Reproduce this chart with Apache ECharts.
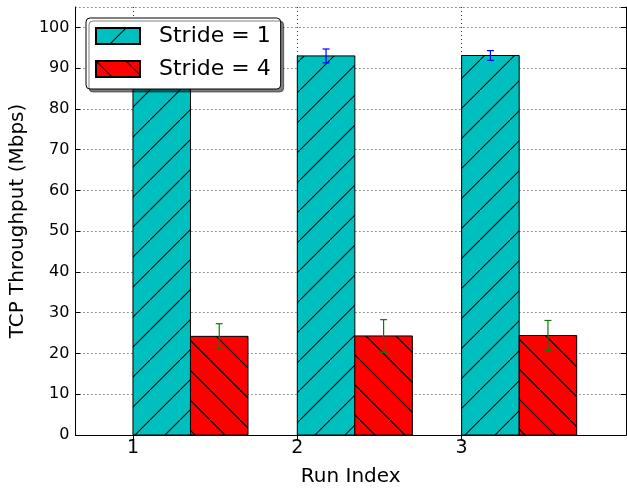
<!DOCTYPE html>
<html>
<head>
<meta charset="utf-8">
<script src="https://cdn.jsdelivr.net/npm/echarts@6/dist/echarts.min.js"></script>
<style>
  html, body { margin: 0; padding: 0; background: #fff; }
  #chart { width: 627px; height: 492px; }
</style>
</head>
<body>
<div id="chart"></div>
<script>
// data
const runs = [1, 2, 3]
const stride1 = [93.1, 93.0, 93.1]
const stride1Err = [1.5, 1.7, 1.2]
const stride4 = [24.2, 24.3, 24.4]
const stride4Err = [3.1, 4.0, 3.7]
const barWidth = 0.35

const font = 'DejaVu Sans'

// hatch pattern tile, like matplotlib '/' and '\'
function hatch(bg, dir) {
  const size = 30
  const cv = document.createElement('canvas')
  cv.width = size
  cv.height = size
  const ctx = cv.getContext('2d')
  ctx.fillStyle = bg
  ctx.fillRect(0, 0, size, size)
  ctx.strokeStyle = '#000'
  ctx.lineWidth = 1.1
  ctx.beginPath()
  if (dir === '/') {
    ctx.moveTo(-2, size + 2)
    ctx.lineTo(size + 2, -2)
  } else {
    ctx.moveTo(-2, -2)
    ctx.lineTo(size + 2, size + 2)
  }
  ctx.stroke()
  return { image: cv, repeat: 'repeat' }
}

const cyanFill = hatch('#00bfbf', '/')
const redFill = hatch('#ff0000', '\\')

function barItem(offset, fill) {
  return function (params, api) {
    const x = api.value(0) + offset
    const p0 = api.coord([x, 0])
    const p1 = api.coord([x + barWidth, api.value(1)])
    return {
      type: 'rect',
      shape: { x: p0[0], y: p1[1], width: p1[0] - p0[0], height: p0[1] - p1[1] },
      style: { fill: fill, stroke: '#000', lineWidth: 1 }
    }
  }
}

function errItem(offset, color) {
  return function (params, api) {
    const x = api.value(0) + offset + barWidth / 2
    const v = api.value(1)
    const e = api.value(2)
    const top = api.coord([x, v + e])
    const bot = api.coord([x, v - e])
    const cap = 3.5
    const st = { stroke: color, lineWidth: 1.2 }
    return {
      type: 'group',
      children: [
        { type: 'line', shape: { x1: top[0], y1: top[1], x2: bot[0], y2: bot[1] }, style: st },
        { type: 'line', shape: { x1: top[0] - cap, y1: top[1], x2: top[0] + cap, y2: top[1] }, style: st },
        { type: 'line', shape: { x1: bot[0] - cap, y1: bot[1], x2: bot[0] + cap, y2: bot[1] }, style: st }
      ]
    }
  }
}

const chart = echarts.init(document.getElementById('chart'), null, { renderer: 'canvas' })

const xBase = {
  type: 'value',
  min: 0.65,
  max: 4,
  axisLine: { show: true, lineStyle: { color: '#000', width: 1 } },
  axisTick: { show: true, inside: true, length: 5, customValues: runs, lineStyle: { color: '#000' } }
}
const yBase = {
  type: 'value',
  min: 0,
  max: 105,
  interval: 10,
  axisLine: { show: true, lineStyle: { color: '#000', width: 1 } },
  axisTick: { show: true, inside: true, length: 5, lineStyle: { color: '#000' } }
}

const option = {
  animation: false,
  textStyle: { fontFamily: font },
  grid: { left: 75, right: 1, top: 7, bottom: 56, containLabel: false },
  legend: {
    data: ['Stride = 1', 'Stride = 4'],
    left: 86,
    top: 18,
    orient: 'vertical',
    icon: 'rect',
    itemWidth: 44,
    itemHeight: 16,
    itemGap: 11,
    padding: [7, 10, 9, 9],
    backgroundColor: '#fff',
    borderColor: '#000',
    borderWidth: 1,
    borderRadius: 4,
    shadowColor: 'rgba(0,0,0,0.5)',
    shadowOffsetX: 3,
    shadowOffsetY: 3,
    shadowBlur: 0,
    textStyle: { fontFamily: font, fontSize: 22, color: '#000', lineHeight: 22, padding: [0, 0, 0, 14] }
  },
  xAxis: [
    Object.assign({}, xBase, {
      position: 'bottom',
      axisLabel: { customValues: runs, fontSize: 19, color: '#000', margin: 4, fontFamily: font },
      splitLine: { show: true, lineStyle: { color: '#333', type: [1, 3], width: 1 } },
      name: 'Run Index',
      nameLocation: 'middle',
      nameGap: 32,
      nameTextStyle: { fontSize: 20, color: '#000', fontFamily: font }
    }),
    Object.assign({}, xBase, {
      position: 'top',
      axisLabel: { show: false },
      splitLine: { show: false }
    })
  ],
  yAxis: [
    Object.assign({}, yBase, {
      position: 'left',
      axisLabel: { fontSize: 16, color: '#000', margin: 6, showMaxLabel: false, fontFamily: font },
      splitLine: { show: true, lineStyle: { color: '#333', type: [1, 3], width: 1 } },
      name: 'TCP Throughput (Mbps)',
      nameLocation: 'middle',
      nameGap: 45,
      nameTextStyle: { fontSize: 20, color: '#000', fontFamily: font }
    }),
    Object.assign({}, yBase, {
      position: 'right',
      axisLabel: { show: false },
      splitLine: { show: false }
    })
  ],
  series: [
    {
      name: 'Stride = 1',
      type: 'custom',
      renderItem: barItem(0, cyanFill),
      itemStyle: { color: cyanFill, borderColor: '#000', borderWidth: 1 },
      data: runs.map((r, i) => [r, stride1[i]]),
      z: 2
    },
    {
      name: 'Stride = 4',
      type: 'custom',
      renderItem: barItem(barWidth, redFill),
      itemStyle: { color: redFill, borderColor: '#000', borderWidth: 1 },
      data: runs.map((r, i) => [r, stride4[i]]),
      z: 2
    },
    {
      name: 'err1',
      type: 'custom',
      renderItem: errItem(0, '#0000ff'),
      data: runs.map((r, i) => [r, stride1[i], stride1Err[i]]),
      z: 3
    },
    {
      name: 'err4',
      type: 'custom',
      renderItem: errItem(barWidth, '#008000'),
      data: runs.map((r, i) => [r, stride4[i], stride4Err[i]]),
      z: 3
    }
  ]
}

chart.setOption(option)
</script>
</body>
</html>
